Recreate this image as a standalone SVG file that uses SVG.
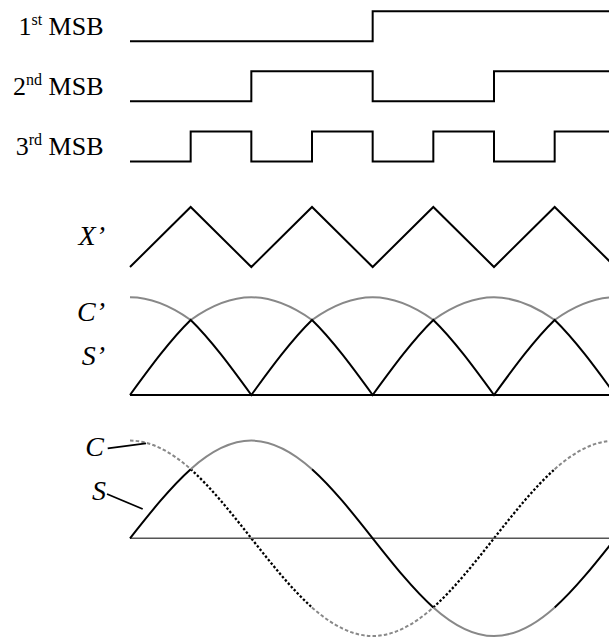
<svg xmlns="http://www.w3.org/2000/svg" width="609" height="637" viewBox="0 0 609 637">
<style>
.lbl{font-family:"Liberation Serif","Times New Roman",serif;font-size:26px;fill:#000}
.sup{font-size:16px}
.it{font-family:"Liberation Serif","Times New Roman",serif;font-size:28px;font-style:italic;fill:#000}
.blk{fill:none;stroke:#000;stroke-width:2;stroke-linejoin:miter}
.gry{fill:none;stroke:#888;stroke-width:2}
.gdash{fill:none;stroke:#888;stroke-width:2;stroke-dasharray:3.5 2.2}
.bdot{fill:none;stroke:#000;stroke-width:2.3;stroke-dasharray:2.4 2}
.axis{fill:none;stroke:#555;stroke-width:1.5}
.lead{fill:none;stroke:#000;stroke-width:1.8}
</style>
<rect width="609" height="637" fill="#fff"/>
<g id="labels">
<text class="lbl" x="103.5" y="35" text-anchor="end">1<tspan class="sup" dy="-10">st</tspan><tspan dy="10"> MSB</tspan></text>
<text class="lbl" x="103.5" y="95" text-anchor="end">2<tspan class="sup" dy="-10">nd</tspan><tspan dy="10"> MSB</tspan></text>
<text class="lbl" x="103.5" y="155" text-anchor="end">3<tspan class="sup" dy="-10">rd</tspan><tspan dy="10"> MSB</tspan></text>
<text class="it" x="105" y="245" text-anchor="end">X’</text>
<text class="it" x="105" y="321" text-anchor="end">C’</text>
<text class="it" x="105" y="365" text-anchor="end">S’</text>
<text class="it" x="104" y="456" text-anchor="end">C</text>
<text class="it" x="106" y="500" text-anchor="end">S</text>
</g>
<g id="msb1"><path class="blk" d="M130,41.2 H372.67 V11.2 H615"/></g>
<g id="msb2"><path class="blk" d="M130,101.2 H251.33 V71.2 H372.67 V101.2 H494 V71.2 H615"/></g>
<g id="msb3"><path class="blk" d="M130,161.5 H190.67 V131.5 H251.33 V161.5 H312 V131.5 H372.67 V161.5 H433.33 V131.5 H494 V161.5 H554.67 V131.5 H615"/></g>
<g id="xprime"><path class="blk" d="M130,267 L190.67,207 L251.33,267 L312,207 L372.67,267 L433.33,207 L494,267 L554.67,207 L615.33,267"/></g>
<g id="cprime">
<path class="gry" d="M130,297.3 C150.22,297.3 170.45,305.65 190.67,320 C210.89,305.65 231.11,297.3 251.33,297.3 C271.55,297.3 291.78,305.65 312,320 C332.22,305.65 352.45,297.3 372.67,297.3 C392.89,297.3 413.11,305.65 433.33,320 C453.55,305.65 473.78,297.3 494,297.3 C514.22,297.3 534.45,305.65 554.67,320 C574.89,305.65 595.11,297.3 615.33,297.3"/>
</g>
<g id="sprime">
<path class="blk" d="M130,395 C150.22,367.23 170.45,339.64 190.67,320 C210.89,339.64 231.11,367.23 251.33,395 C271.55,367.23 291.78,339.64 312,320 C332.22,339.64 352.45,367.23 372.67,395 C392.89,367.23 413.11,339.64 433.33,320 C453.55,339.64 473.78,367.23 494,395 C514.22,367.23 534.45,339.64 554.67,320 C574.89,339.64 595.11,367.23 615.33,395"/>
<path class="blk" d="M130,395 H615"/>
</g>
<g id="cosine">
<path class="gdash" d="M130,440.6 C150.22,440.6 170.45,451.11 190.67,469.2"/>
<path class="bdot" d="M190.67,469.2 C210.89,487.29 231.11,512.72 251.33,538.3 C271.55,563.88 291.78,589.31 312,607.4"/>
<path class="gdash" d="M312,607.4 C332.22,625.49 352.45,636 372.67,636 C392.89,636 413.11,625.49 433.33,607.4"/>
<path class="bdot" d="M433.33,607.4 C453.55,589.31 473.78,563.88 494,538.3 C514.22,512.72 534.45,487.29 554.67,469.2"/>
<path class="gdash" d="M554.67,469.2 C574.89,451.11 595.11,440.6 615.33,440.6"/>
</g>
<g id="axis"><path class="axis" d="M130,538.3 H615"/></g>
<g id="sine">
<path class="blk" d="M130,538.3 C150.22,512.72 170.45,487.29 190.67,469.2"/>
<path class="gry" d="M190.67,469.2 C210.89,451.11 231.11,440.6 251.33,440.6 C271.55,440.6 291.78,451.11 312,469.2"/>
<path class="blk" d="M312,469.2 C332.22,487.29 352.45,512.72 372.67,538.3 C392.89,563.88 413.11,589.31 433.33,607.4"/>
<path class="gry" d="M433.33,607.4 C453.55,625.49 473.78,636 494,636 C514.22,636 534.45,625.49 554.67,607.4"/>
<path class="blk" d="M554.67,607.4 C574.89,589.31 595.11,563.88 615.33,538.3"/>
</g>
<g id="connectors">
<path class="lead" d="M107.7,448.3 L146,443.3"/>
<path class="lead" d="M107,494 L142.7,509"/>
</g>
</svg>
